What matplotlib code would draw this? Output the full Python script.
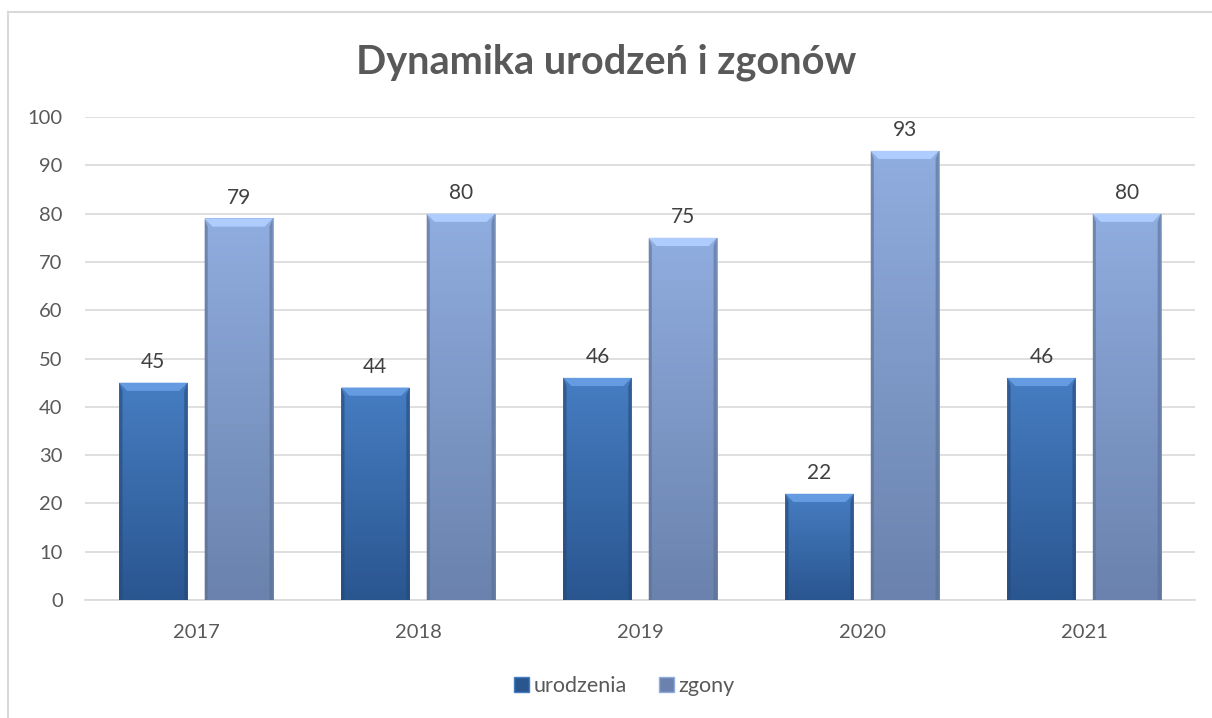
import matplotlib.pyplot as plt
import numpy as np
from matplotlib.patches import Polygon
from matplotlib.lines import Line2D
import matplotlib.colors as mcolors

# Data
years = ["2017", "2018", "2019", "2020", "2021"]
urodzenia = [45, 44, 46, 22, 46]
zgony = [79, 80, 75, 93, 80]

plt.rcParams["font.family"] = ["Lato", "DejaVu Sans"]

fig = plt.figure(figsize=(12.12, 7.18), dpi=100)
ax = fig.add_axes([0.0701, 0.1643, 0.916, 0.6727])

x = np.arange(len(years))
w = 0.307
off = (w + 0.077) / 2

series = [
    (urodzenia, -off, "#467dc2", "#2a5690", "urodzenia"),
    (zgony, off, "#90addf", "#6a82ad", "zgony"),
]

bev_h = 1.7
bev_w = 0.036
for vals, dx, ctop, cbot, lab in series:
    bars = ax.bar(x + dx, vals, w, color=cbot, edgecolor="none", zorder=3, label=lab)
    cmap = mcolors.LinearSegmentedColormap.from_list("g", [cbot, ctop])
    for b in bars:
        x0, y0 = b.get_x(), b.get_y()
        bw, bh = b.get_width(), b.get_height()
        grad = np.linspace(0, 1, 100).reshape(-1, 1)
        im = ax.imshow(grad, cmap=cmap, origin="lower", aspect="auto",
                       extent=[x0, x0 + bw, y0, y0 + bh], zorder=3.1)
        im.set_clip_path(b)
        # bevel: top light strip, side darker strips
        top = y0 + bh
        light = mcolors.to_rgba(ctop)
        light = tuple(min(1, c + 0.12) for c in light[:3]) + (1,)
        ax.add_patch(Polygon([[x0, top], [x0 + bw, top], [x0 + bw - bev_w, top - bev_h],
                              [x0 + bev_w, top - bev_h]], closed=True,
                             facecolor=light, edgecolor="none", zorder=3.2))
        dark = tuple(c * 0.85 for c in mcolors.to_rgba(cbot)[:3]) + (0.6,)
        ax.add_patch(Polygon([[x0, top], [x0 + bev_w * 0.4, top - bev_h],
                              [x0 + bev_w * 0.4, y0], [x0, y0]], closed=True,
                             facecolor=dark, edgecolor="none", zorder=3.2))
        ax.add_patch(Polygon([[x0 + bw, top], [x0 + bw - bev_w * 0.4, top - bev_h],
                              [x0 + bw - bev_w * 0.4, y0], [x0 + bw, y0]], closed=True,
                             facecolor=dark, edgecolor="none", zorder=3.2))
        ax.text(x0 + bw / 2, top + 2.2, str(int(bh)), ha="center", va="bottom",
                fontsize=15, color="#404040", zorder=4)

ax.set_xlim(-0.5, len(years) - 0.5)
ax.set_ylim(0, 100)
ax.set_yticks(np.arange(0, 101, 10))
ax.set_xticks(x)
ax.set_xticklabels(years)
ax.tick_params(axis="both", length=0, labelsize=14.5, colors="#595959")
ax.tick_params(axis="y", pad=16)
ax.tick_params(axis="x", pad=17)
ax.grid(axis="y", color="#d9d9d9", linewidth=1.2, zorder=0)
ax.set_axisbelow(True)
for s in ["top", "right", "left"]:
    ax.spines[s].set_visible(False)
ax.spines["bottom"].set_color("#d9d9d9")
ax.spines["bottom"].set_linewidth(1.2)

fig.text(0.5, 0.913, "Dynamika urodzeń i zgonów", ha="center", va="center",
         fontsize=28.5, fontweight="bold", color="#595959")

handles = [plt.Rectangle((0, 0), 1, 1, facecolor=s[3], edgecolor=s[2]) for s in series]
fig.legend(handles, [s[4] for s in series], loc="center", bbox_to_anchor=(0.515, 0.045),
           ncol=2, frameon=False, fontsize=15.5, handlelength=0.7, handleheight=0.7,
           handletextpad=0.2, columnspacing=1.5, labelcolor="#595959")

# chart border (left and top, as in the cropped original)
fig.add_artist(Line2D([0.0066, 0.0066], [0, 0.983], color="#d9d9d9", linewidth=1.5))
fig.add_artist(Line2D([0.0066, 1], [0.983, 0.983], color="#d9d9d9", linewidth=1.5))

fig.savefig("out.png", dpi=100)
